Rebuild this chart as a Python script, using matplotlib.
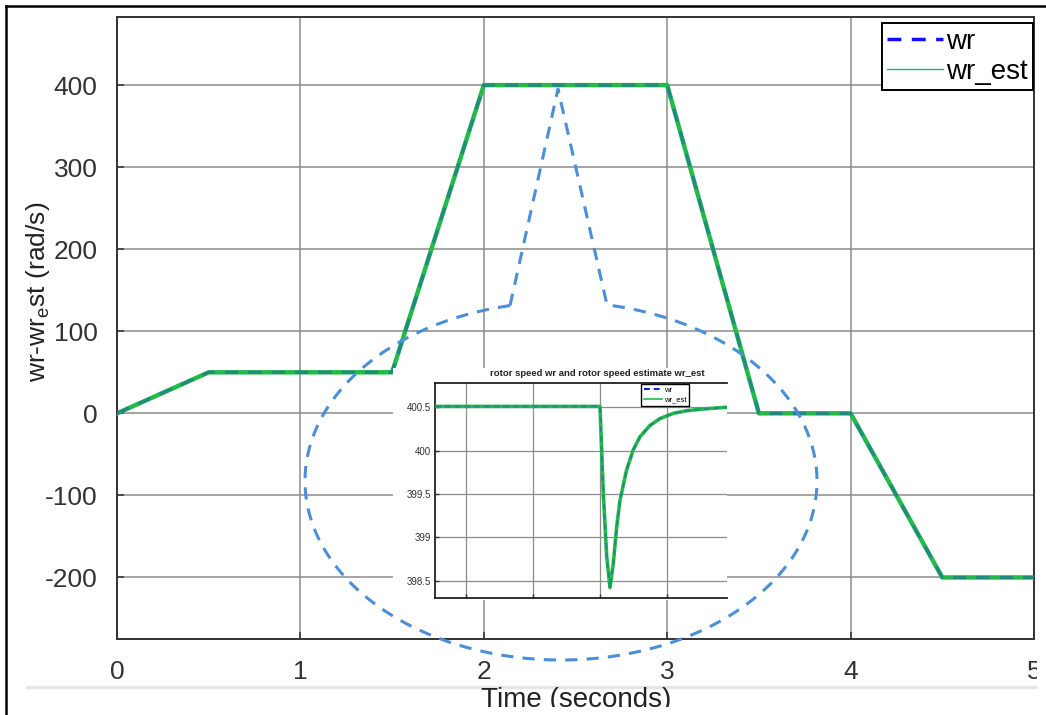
import numpy as np
import matplotlib
matplotlib.use("Agg")
import matplotlib.pyplot as plt
from matplotlib.lines import Line2D
from matplotlib.patches import Rectangle

plt.rcParams['font.family'] = ['Liberation Sans', 'DejaVu Sans']
plt.rcParams['axes.unicode_minus'] = False

# main simulation: rotor speed and its estimate (rad/s)
t = [0, 0.5, 1.5, 2.0, 3.0, 3.5, 4.0, 4.5, 5.0]
wr = [0, 50, 50, 400, 400, 0, 0, -200, -200]
wr_est = [0, 50, 50, 400, 400, 0, 0, -200, -200]

# zoomed detail around the 400 rad/s plateau (x in inset grid units)
zoom_t = [0.54, 1.0, 2.0, 3.0, 3.05, 3.10, 3.149, 3.199, 3.249, 3.299, 3.398,
          3.497, 3.597, 3.746, 3.896, 4.095, 4.294, 4.542, 4.89]
zoom_wr = [400.51, 400.51, 400.51, 400.51, 399.5, 398.78, 398.42, 398.70, 399.12,
           399.43, 399.78, 400.01, 400.16, 400.29, 400.37, 400.43, 400.46, 400.48, 400.50]
zoom_est = list(zoom_wr)

W, H = 1046, 715
def fx(x): return x / W
def fy(y): return 1 - y / H

fig = plt.figure(figsize=(W / 100, H / 100), dpi=100)

GREEN = '#22bb4a'
BLUE = '#1f2fe0'

# ---- main axes
ax = fig.add_axes([fx(117), fy(639), fx(1034) - fx(117), fy(17) - fy(639)])
ax.plot(t, wr_est, color=GREEN, lw=3.2, label='wr_est', zorder=3)
ax.plot(t, wr, color=BLUE, lw=2.4, ls=(0, (4, 3)), alpha=0.35, label='wr', zorder=4)
ax.set_xlim(0, 5)
ax.set_ylim(-275, 483)
ax.set_xticks([0, 1, 2, 3, 4, 5])
ax.set_yticks([-200, -100, 0, 100, 200, 300, 400])
ax.grid(True, color='#8c8c8c', lw=1.1)
ax.tick_params(direction='in', length=5, width=1.1, colors='#333333',
               labelsize=19, pad=14)
ax.tick_params(axis='x', pad=15)
for s in ax.spines.values():
    s.set_color('#333333')
    s.set_linewidth(1.4)

handles, labels = ax.get_legend_handles_labels()
leg = ax.legend(handles[::-1], labels[::-1], loc='upper right',
                bbox_to_anchor=(fx(1033), fy(23)), bbox_transform=fig.transFigure,
                borderaxespad=0, fancybox=False, edgecolor='black', fontsize=20,
                handlelength=2.0, handletextpad=0.1, labelspacing=0.15,
                borderpad=0.2, framealpha=1)
leg.get_frame().set_linewidth(1.4)
lh = leg.legend_handles
lh[0].set_alpha(1)
lh[0].set_linewidth(2.5)
lh[0].set_color('#1010ff')
lh[1].set_linewidth(1.0)

fig.text(fx(38), fy(292), 'wr-wr$_{\\mathregular{e}}$st (rad/s)', rotation=90,
         ha='center', va='center', fontsize=19, color='#222222')
fig.text(fx(576), fy(700), 'Time (seconds)', ha='center', va='center',
         fontsize=20, color='#222222')

# ---- white backing behind the inset
fig.patches.append(Rectangle((fx(393), fy(600)), fx(727) - fx(393), fy(368) - fy(600),
                             transform=fig.transFigure, facecolor='white',
                             edgecolor='none', zorder=1))

# ---- inset axes
axi = fig.add_axes([fx(435), fy(598), fx(727) - fx(435), fy(383) - fy(598)])
axi.set_zorder(2)
axi.plot(zoom_t, zoom_est, color=GREEN, lw=2.6, label='wr_est', zorder=3)
axi.plot(zoom_t, zoom_wr, color=BLUE, lw=1.4, ls=(0, (3, 2)), alpha=0.35,
         label='wr', zorder=4)
axi.set_xlim(0.537, 4.896)
axi.set_ylim(398.30, 400.78)
axi.set_xticks([1, 2, 3, 4])
axi.set_xticklabels([])
axi.set_yticks([398.5, 399, 399.5, 400, 400.5])
axi.set_yticklabels(['398.5', '399', '399.5', '400', '400.5'])
axi.grid(True, color='#8c8c8c', lw=0.9)
axi.tick_params(direction='in', length=3, width=1, labelsize=7, pad=3,
                colors='#333333')
axi.spines['right'].set_visible(False)
for s in ['left', 'top', 'bottom']:
    axi.spines[s].set_color('#222222')
    axi.spines[s].set_linewidth(1.3)
fig.text(fx(597), fy(374), 'rotor speed wr and rotor speed estimate wr_est',
         ha='center', va='center', fontsize=6.8, fontweight='bold', color='#222222')
ih, il = axi.get_legend_handles_labels()
ileg = axi.legend(ih[::-1], il[::-1], loc='upper right',
                  bbox_to_anchor=(fx(689), fy(384)), bbox_transform=fig.transFigure,
                  borderaxespad=0, fancybox=False, edgecolor='black', fontsize=5.5,
                  handlelength=2.4, handletextpad=0.2, labelspacing=0.25,
                  borderpad=0.35, framealpha=1)
ileg.get_frame().set_linewidth(1.0)
ileg.legend_handles[0].set_alpha(1)
ileg.legend_handles[0].set_color('#1010ff')
ileg.legend_handles[1].set_linewidth(1.2)

# ---- dashed callout ellipse with a spike to the plateau
cx, cy, a, b = 561, 481, 256, 179
tL = np.arccos(-51 / a)
tR = np.arccos(46 / a)
tt = np.linspace(tL, tR + 2 * np.pi, 400)
ex = list(cx + a * np.cos(tt)) + [558, cx + a * np.cos(tL)]
ey = list(cy - b * np.sin(tt)) + [89, cy - b * np.sin(tL)]
fig.add_artist(Line2D([fx(v) for v in ex], [fy(v) for v in ey],
                      transform=fig.transFigure, color='#4a8fd8', lw=2.2,
                      ls=(0, (4, 3)), zorder=5))

# ---- page decorations of the screenshot
fig.add_artist(Line2D([fx(27), fx(1036)], [fy(687), fy(687)], transform=fig.transFigure,
                      color='#e6e6e6', lw=2.5, zorder=0))
fig.patches.append(Rectangle((fx(1037), 0), 1 - fx(1037), fy(10), transform=fig.transFigure,
                             facecolor='white', edgecolor='none', zorder=6))
fig.patches.append(Rectangle((fx(8), 0), 1 - fx(8), fy(707), transform=fig.transFigure,
                             facecolor='white', edgecolor='none', zorder=6))
fig.add_artist(Line2D([fx(6), fx(6)], [0, fy(6)], transform=fig.transFigure,
                      color='black', lw=1.8, zorder=7))
fig.add_artist(Line2D([fx(6), 1], [fy(6), fy(6)], transform=fig.transFigure,
                      color='black', lw=1.8, zorder=7))

fig.savefig('out.png', dpi=100)
